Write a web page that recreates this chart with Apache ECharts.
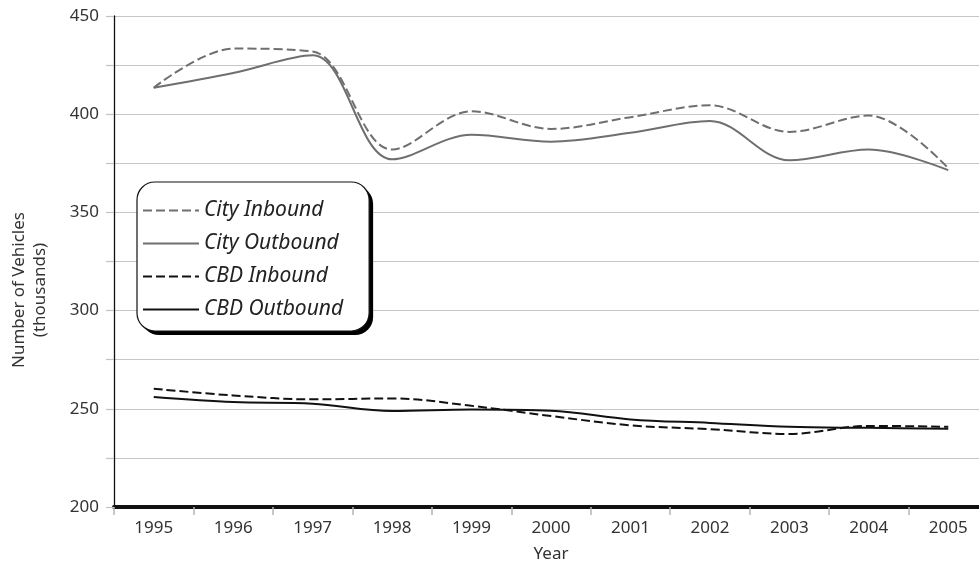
<!DOCTYPE html>
<html>
<head>
<meta charset="utf-8">
<title>Vehicle counts 1995–2005</title>
<script src="https://cdn.jsdelivr.net/npm/echarts@6/dist/echarts.min.js"></script>
<style>
  html, body { margin: 0; padding: 0; background: #fff; }
  #chart { width: 979px; height: 569px; }
</style>
</head>
<body>
<div id="chart"></div>
<script>
// Years on the category axis
const years = ['1995', '1996', '1997', '1998', '1999', '2000', '2001', '2002', '2003', '2004', '2005'];

// Vehicle counts, thousands
const cityInbound   = [413.5, 433.4, 431.9, 382.0, 401.5, 392.5, 398.5, 404.5, 391.0, 399.3, 372.5];
const cityOutbound  = [413.5, 421.0, 430.0, 377.0, 389.5, 386.0, 390.5, 396.5, 376.5, 382.0, 371.5];
const cbdInbound    = [260.2, 256.8, 254.8, 255.3, 251.5, 246.3, 241.6, 239.6, 237.2, 241.3, 240.8];
const cbdOutbound   = [256.0, 253.4, 252.6, 248.9, 249.6, 249.0, 244.6, 242.8, 240.8, 240.3, 239.8];

const seriesNames = ['City Inbound', 'City Outbound', 'CBD Inbound', 'CBD Outbound'];

// Value axis range and step
const yMin = 200;
const yMax = 450;
const yStep = 25;

const FONT = '"Noto Sans", "DejaVu Sans", sans-serif';
const GREY = '#6f6f6f';
const INK = '#111111';

const chart = echarts.init(document.getElementById('chart'), null, { renderer: 'canvas' });

function lineSeries(name, data, color, dashed) {
  return {
    name: name,
    type: 'line',
    data: data,
    smooth: 0.35,
    symbol: 'none',
    showSymbol: false,
    itemStyle: { color: color },
    lineStyle: { color: color, width: 2, type: dashed ? [9, 4] : 'solid' },
    emphasis: { disabled: true }
  };
}

// Shared legend layout; the first copy is a solid black plate offset
// down-right that acts as the drop shadow of the framed key above it.
const legendBase = {
  orient: 'vertical',
  padding: [18, 26, 11, 5],
  itemWidth: 56,
  itemHeight: 21,
  itemGap: 12,
  borderRadius: 18,
  data: seriesNames
};

chart.setOption({
  animation: false,
  backgroundColor: '#ffffff',
  textStyle: { fontFamily: FONT },
  grid: {
    left: 114,
    right: -9,
    top: 16,
    bottom: 62,
    containLabel: false,
    outerBoundsMode: 'none'
  },
  legend: [
    Object.assign({}, legendBase, {
      left: 141,
      top: 186,
      z: 3,
      selectedMode: false,
      backgroundColor: '#000000',
      borderWidth: 0,
      itemStyle: { opacity: 0 },
      lineStyle: { opacity: 0 },
      textStyle: {
        fontFamily: FONT,
        fontStyle: 'italic',
        fontSize: 21,
        lineHeight: 21,
        color: 'rgba(0,0,0,0)'
      }
    }),
    Object.assign({}, legendBase, {
      left: 137,
      top: 182,
      z: 4,
      backgroundColor: '#ffffff',
      borderColor: INK,
      borderWidth: 1.2,
      itemStyle: { opacity: 0 },
      textStyle: {
        fontFamily: FONT,
        fontStyle: 'italic',
        fontSize: 21,
        lineHeight: 21,
        color: '#222222'
      }
    })
  ],
  xAxis: {
    type: 'category',
    data: years,
    boundaryGap: true,
    name: 'Year',
    nameLocation: 'middle',
    nameGap: 39,
    nameTextStyle: { fontFamily: FONT, fontSize: 17, color: '#333333' },
    axisLine: { show: true, lineStyle: { color: INK, width: 4 } },
    axisTick: { show: true, length: 8, lineStyle: { color: '#b5b5b5', width: 1.5 } },
    axisLabel: { fontFamily: FONT, fontSize: 17, color: '#333333', margin: 13 },
    splitLine: { show: false }
  },
  yAxis: {
    type: 'value',
    min: yMin,
    max: yMax,
    interval: yStep,
    axisLine: { show: true, lineStyle: { color: INK, width: 1.3 } },
    axisTick: { show: true, length: 8, lineStyle: { color: '#c2c2c2', width: 1.2 } },
    axisLabel: {
      fontFamily: FONT,
      fontSize: 17,
      color: '#333333',
      margin: 15,
      formatter: function (v) { return v % 50 === 0 ? String(v) : ''; }
    },
    splitLine: { show: true, lineStyle: { color: '#c6c6c6', width: 1.2 } }
  },
  graphic: [
    {
      type: 'text',
      x: 30,
      y: 290,
      rotation: Math.PI / 2,
      style: {
        text: 'Number of Vehicles\n(thousands)',
        fontFamily: FONT,
        fontSize: 17,
        lineHeight: 21,
        fill: '#333333',
        align: 'center',
        verticalAlign: 'middle',
        textAlign: 'center',
        textVerticalAlign: 'middle'
      }
    }
  ],
  series: [
    lineSeries(seriesNames[0], cityInbound, GREY, true),
    lineSeries(seriesNames[1], cityOutbound, GREY, false),
    lineSeries(seriesNames[2], cbdInbound, INK, true),
    lineSeries(seriesNames[3], cbdOutbound, INK, false)
  ]
});
</script>
</body>
</html>
